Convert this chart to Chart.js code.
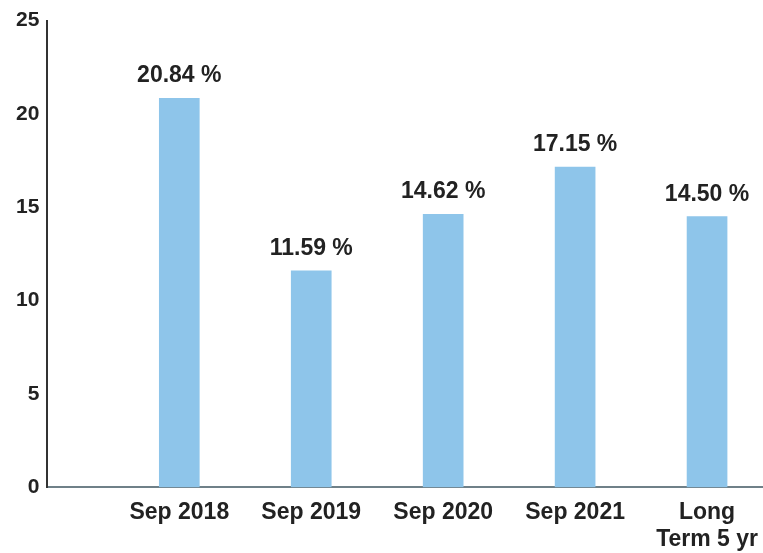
<!DOCTYPE html>
<html>
<head>
<meta charset="utf-8">
<script src="https://cdn.jsdelivr.net/npm/chart.js@4"></script>
<style>
  html, body { margin: 0; padding: 0; background: #fff; }
  #wrap { width: 763px; height: 553px; }
</style>
</head>
<body>
<div id="wrap"><canvas id="returnsChart"></canvas></div>
<script>
// Periods and returns (%)
const categories = ['Sep 2018', 'Sep 2019', 'Sep 2020', 'Sep 2021', ['Long', 'Term 5 yr']];
const returns = [20.84, 11.59, 14.62, 17.15, 14.50];
const yTicks = [0, 5, 10, 15, 20, 25];

const FONT = "'Liberation Sans', Arial, sans-serif";
const TEXT = '#222222';

// value labels above each bar
const valueLabels = {
  id: 'valueLabels',
  afterDatasetsDraw(chart) {
    const ctx = chart.ctx;
    const meta = chart.getDatasetMeta(0);
    ctx.save();
    ctx.font = 'bold 23px ' + FONT;
    ctx.fillStyle = TEXT;
    ctx.textAlign = 'center';
    ctx.textBaseline = 'alphabetic';
    meta.data.forEach((bar, i) => {
      ctx.fillText(returns[i].toFixed(2) + ' %', bar.x, bar.y - 16);
    });
    ctx.restore();
  }
};

new Chart(document.getElementById('returnsChart'), {
  type: 'bar',
  data: {
    datasets: [{
      data: returns.map((v, i) => ({ x: i + 1, y: v })),
      backgroundColor: '#8ec5ea',
      barThickness: 40
    }]
  },
  options: {
    responsive: true,
    maintainAspectRatio: false,
    animation: false,
    layout: { padding: { left: 8, right: 0, top: 14, bottom: -12 } },
    plugins: {
      legend: { display: false },
      tooltip: { enabled: false }
    },
    scales: {
      x: {
        type: 'linear',
        offset: false,
        min: 0,
        max: 5.424,
        grid: { display: false, drawTicks: false },
        border: { display: true, color: '#6f8088', width: 2 },
        afterFit: (scale) => { scale.paddingRight = 0; },
        ticks: {
          stepSize: 1,
          includeBounds: false,
          autoSkip: false,
          maxRotation: 0,
          padding: 12,
          color: TEXT,
          font: { family: FONT, size: 23, weight: 'bold', lineHeight: 1.17 },
          callback: (v) => categories[v - 1] || ''
        }
      },
      y: {
        min: yTicks[0],
        max: yTicks[yTicks.length - 1],
        grid: { display: false, drawTicks: false },
        border: { display: true, color: '#333333', width: 2 },
        afterBuildTicks: (axis) => { axis.ticks = yTicks.map(v => ({ value: v })); },
        ticks: {
          padding: 8,
          color: TEXT,
          font: { family: FONT, size: 21, weight: 'bold' }
        }
      }
    }
  },
  plugins: [valueLabels]
});
</script>
</body>
</html>
